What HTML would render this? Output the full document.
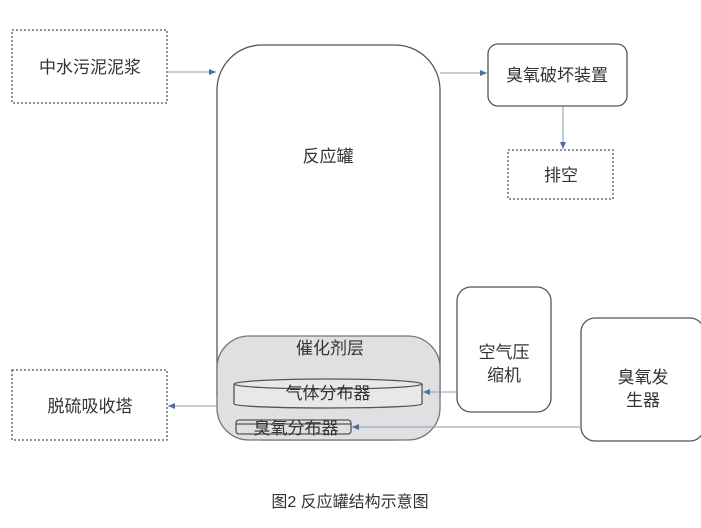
<!DOCTYPE html>
<html><head><meta charset="utf-8"><style>
body{margin:0;background:#fff;}
svg text{font-family:"Liberation Sans","Noto Sans CJK SC",sans-serif;fill:#333;}
</style></head><body>
<svg width="701" height="523" xmlns="http://www.w3.org/2000/svg">
<defs><marker id="a" markerWidth="8" markerHeight="8" refX="7" refY="4" orient="auto" markerUnits="userSpaceOnUse"><path d="M0,1 L7,4 L0,7z" fill="#4a6fa5"/></marker></defs>
<g fill="none" stroke="#555" stroke-width="1.3">
<rect x="12" y="30" width="155" height="73" stroke-dasharray="2,2"/>
<rect x="217" y="45" width="223" height="395" rx="45" fill="#fff"/>
<rect x="217" y="336" width="223" height="104" rx="32" fill="#e0e0e2" stroke="#777"/>
<rect x="488" y="44" width="139" height="62" rx="10"/>
<rect x="508" y="150" width="105" height="49" stroke-dasharray="2,2"/>
<rect x="457" y="287" width="94" height="125" rx="14"/>
<rect x="581" y="318" width="123" height="123" rx="14"/>
<rect x="12" y="370" width="155" height="70" stroke-dasharray="2,2"/>
<path d="M234,384 L234,404 A94,4 0 0 0 422,404 L422,384" fill="#e8e8ea"/>
<ellipse cx="328" cy="384" rx="94" ry="5" fill="#e8e8ea"/>
<rect x="236" y="420" width="115" height="14" rx="3"/>
<line x1="236" y1="424" x2="351" y2="424"/>
</g>
<g stroke="#8a9bb5" stroke-width="1" fill="none">
<line x1="167" y1="72" x2="216" y2="72" marker-end="url(#a)"/>
<line x1="440" y1="73" x2="487" y2="73" marker-end="url(#a)"/>
<line x1="563" y1="106" x2="563" y2="149" marker-end="url(#a)"/>
<line x1="457" y1="392" x2="423" y2="392" marker-end="url(#a)"/>
<line x1="581" y1="427" x2="352" y2="427" marker-end="url(#a)"/>
<line x1="217" y1="406" x2="168" y2="406" marker-end="url(#a)"/>
</g>
<g font-size="17" text-anchor="middle">
<text x="90" y="73">中水污泥泥浆</text>
<text x="328" y="162">反应罐</text>
<text x="557" y="81">臭氧破坏装置</text>
<text x="561" y="181">排空</text>
<text x="330" y="354">催化剂层</text>
<text x="328" y="399">气体分布器</text>
<text x="296" y="434">臭氧分布器</text>
<text x="504" y="358">空气压</text>
<text x="504" y="381">缩机</text>
<text x="643" y="383">臭氧发</text>
<text x="643" y="406">生器</text>
<text x="90" y="412">脱硫吸收塔</text>
<text x="350" y="507" font-size="16" fill="#555">图2 反应罐结构示意图</text>
</g>
</svg>
</body></html>
